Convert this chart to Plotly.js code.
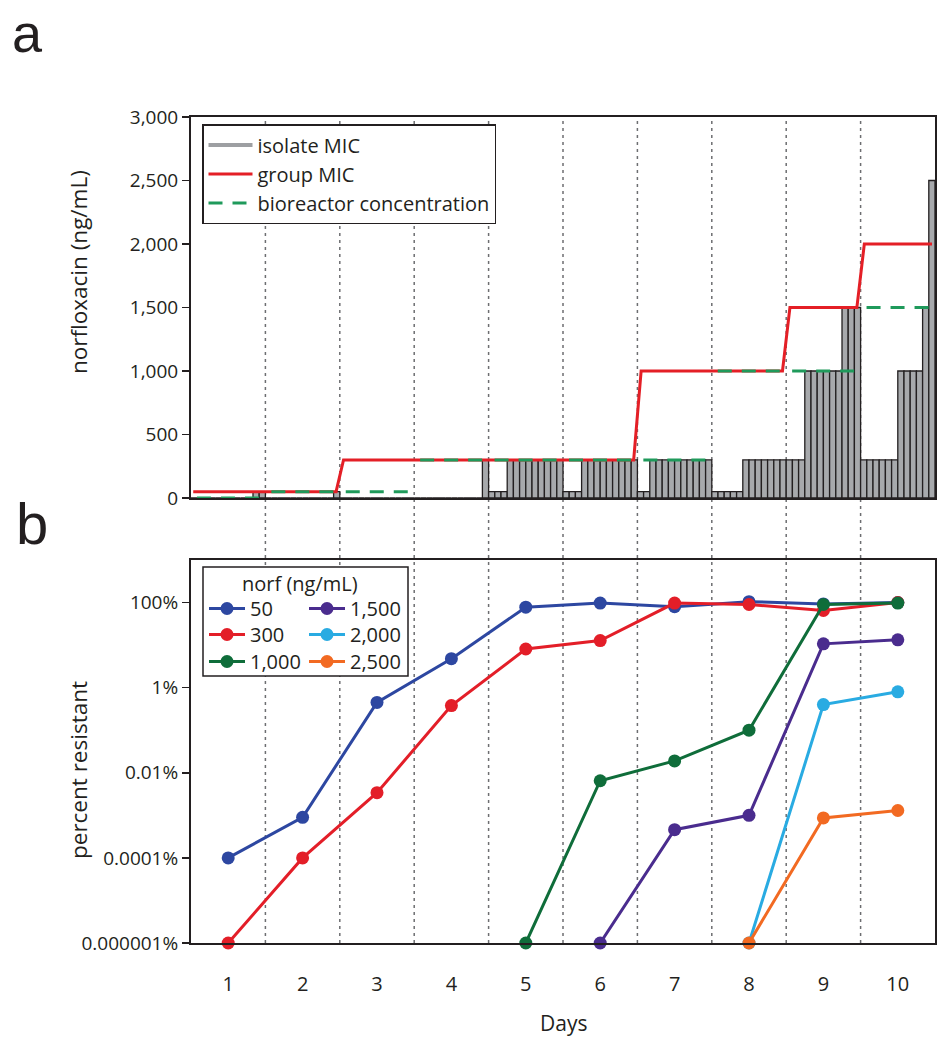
<!DOCTYPE html>
<html>
<head>
<meta charset="utf-8">
<script src="https://cdn.plot.ly/plotly-3.0.1.min.js"></script>
<style>
  html, body { margin: 0; padding: 0; background: #ffffff; }
  #chart { width: 946px; height: 1050px; }
</style>
</head>
<body>
<div id="chart"></div>
<script>
// ---------------- DATA ----------------
const days = [1, 2, 3, 4, 5, 6, 7, 8, 9, 10];

// panel a: isolate MIC (ng/mL), 12 isolates per day
const micDay1  = [0, 0, 0, 0, 0, 0, 0, 0, 0, 0, 50, 50];
const micDay2  = [0, 0, 0, 0, 0, 0, 0, 0, 0, 0, 0, 50];
const micDay3  = [0, 0, 0, 0, 0, 0, 0, 0, 0, 0, 0, 0];
const micDay4  = [0, 0, 0, 0, 0, 0, 0, 0, 0, 0, 0, 300];
const micDay5  = [50, 50, 50, 300, 300, 300, 300, 300, 300, 300, 300, 300];
const micDay6  = [50, 50, 50, 300, 300, 300, 300, 300, 300, 300, 300, 300];
const micDay7  = [50, 50, 300, 300, 300, 300, 300, 300, 300, 300, 300, 300];
const micDay8  = [50, 50, 50, 50, 50, 300, 300, 300, 300, 300, 300, 300];
const micDay9  = [300, 300, 300, 1000, 1000, 1000, 1000, 1000, 1000, 1500, 1500, 1500];
const micDay10 = [300, 300, 300, 300, 300, 300, 1000, 1000, 1000, 1000, 1500, 2500];

const groupMIC       = [50, 50, 300, 300, 300, 300, 1000, 1000, 1500, 2000];
const bioreactorConc = [0, 50, 50, 300, 300, 300, 300, 1000, 1000, 1500];

const yTicksA = [0, 500, 1000, 1500, 2000, 2500, 3000];

// panel b: percent resistant
const res50   = [0.0001, 0.0009, 0.45, 4.8, 78, 97, 80, 105, 93, 100];
const res300  = [0.000001, 0.0001, 0.0034, 0.38, 8.1, 12.8, 97, 90, 65, 100];
const res1000 = [null, null, null, null, 0.000001, 0.0065, 0.019, 0.1, 90, 97];
const res1500 = [null, null, null, null, null, 0.000001, 0.00046, 0.001, 10.7, 13.3];
const res2000 = [null, null, null, null, null, null, null, 0.000001, 0.4, 0.8];
const res2500 = [null, null, null, null, null, null, null, 0.000001, 0.00087, 0.0013];

const yTickValsB = [100, 1, 0.01, 0.0001, 0.000001];
const yTickTextB = ['100%', '1%', '0.01%', '0.0001%', '0.000001%'];

// ---------------- BUILD ----------------
const FONT = 'Open Sans, Noto Sans, sans-serif';
const INK = '#231f20';
const micByDay = [micDay1, micDay2, micDay3, micDay4, micDay5, micDay6, micDay7, micDay8, micDay9, micDay10];
const perDay = 12;

const barX = [], barY = [];
micByDay.forEach((arr, di) => {
  arr.forEach((v, i) => {
    barX.push(days[di] - 0.5 + (i + 0.5) / perDay);
    barY.push(v);
  });
});

const gX = [], gY = [];
days.forEach((d, i) => {
  const a = d - 0.5 + (i === 0 ? 0.03 : 0.05);
  const b = d + 0.5 - (i === days.length - 1 ? 0.04 : 0.05);
  gX.push(a, b); gY.push(groupMIC[i], groupMIC[i]);
});

const bX = [], bY = [];
days.forEach((d, i) => {
  bX.push(d - 0.5 + 0.08, d + 0.5 - 0.03, null);
  bY.push(bioreactorConc[i], bioreactorConc[i], null);
});

// geometry helpers (paper coords)
const L = 191, R = 935, T = 117, B = 943;
const px = x => (x - L) / (R - L);
const py = y => (B - y) / (B - T);

const traces = [];
// top panel
traces.push({
  type: 'scatter', mode: 'lines', x: [null], y: [null], xaxis: 'x2', yaxis: 'y2',
  name: 'isolate MIC', line: {color: '#9d9fa2', width: 4},
  legend: 'legend7', hoverinfo: 'skip'
});
traces.push({
  type: 'bar', x: barX, y: barY, width: 1 / perDay, xaxis: 'x2', yaxis: 'y2',
  marker: {color: '#a7a9ac', line: {color: INK, width: 1.3}},
  showlegend: false, name: 'isolate MIC bars', hoverinfo: 'x+y'
});
traces.push({
  type: 'scatter', mode: 'lines', x: gX, y: gY, xaxis: 'x2', yaxis: 'y2',
  name: 'group MIC', line: {color: '#e41f26', width: 3},
  legend: 'legend7'
});
traces.push({
  type: 'scatter', mode: 'lines', x: bX, y: bY, xaxis: 'x2', yaxis: 'y2',
  name: 'bioreactor concentration', connectgaps: false,
  line: {color: '#1f9a5b', width: 3, dash: '14px,10px'},
  legend: 'legend7'
});

// bottom panel: legend slot for each series (2 columns x 3 rows)
const series = [
  {name: '50',    y: res50,   color: '#2d47a1', legend: 'legend'},
  {name: '300',   y: res300,  color: '#e31e28', legend: 'legend2'},
  {name: '1,000', y: res1000, color: '#0f6d3a', legend: 'legend3'},
  {name: '1,500', y: res1500, color: '#4a2c8e', legend: 'legend4'},
  {name: '2,000', y: res2000, color: '#29abe2', legend: 'legend5'},
  {name: '2,500', y: res2500, color: '#f26a22', legend: 'legend6'}
];
series.forEach(s => {
  traces.push({
    type: 'scatter', mode: 'lines+markers', x: days, y: s.y,
    xaxis: 'x', yaxis: 'y', name: s.name, legend: s.legend,
    line: {color: s.color, width: 3},
    marker: {color: s.color, size: 13},
    cliponaxis: false
  });
});

const shapes = [];
days.slice(0, -1).forEach(d => {
  shapes.push({
    type: 'line', xref: 'x', yref: 'paper', x0: d + 0.5, x1: d + 0.5, y0: 0, y1: 1,
    line: {color: '#6d6e71', width: 1.5, dash: '3px,4px'}, layer: 'below'
  });
});
shapes.push({
  type: 'rect', xref: 'paper', yref: 'paper',
  x0: px(203), x1: px(408), y0: py(676), y1: py(567),
  fillcolor: '#ffffff', line: {color: INK, width: 1.5}, layer: 'below'
});

const axisLine = {showline: true, linecolor: INK, linewidth: 2, mirror: true, showgrid: false, zeroline: false};

function slotLegend(xPix, rowCenter) {
  return {
    x: px(xPix), y: py(rowCenter - 18), xanchor: 'left', yanchor: 'top',
    bgcolor: 'rgba(0,0,0,0)', borderwidth: 0, itemwidth: 36,
    font: {size: 20, family: FONT, color: INK}
  };
}

const layout = {
  width: 946, height: 1050,
  margin: {l: L, r: 946 - R, t: T, b: 1050 - B, pad: 0},
  paper_bgcolor: '#ffffff', plot_bgcolor: 'rgba(0,0,0,0)',
  font: {family: FONT, color: INK, size: 19},
  barmode: 'overlay', bargap: 0,
  showlegend: true,
  xaxis: Object.assign({}, axisLine, {
    domain: [0, 1], anchor: 'y', range: [0.5, 10.5],
    tickvals: days, ticktext: days.map(String), ticks: '',
    tickfont: {size: 20, family: FONT, color: INK}, ticklabelstandoff: 22
  }),
  yaxis: Object.assign({}, axisLine, {
    domain: [0, py(560)], anchor: 'x', type: 'log', range: [-6, 3],
    tickvals: yTickValsB, ticktext: yTickTextB,
    ticks: 'outside', ticklen: 7, tickwidth: 1.5, tickcolor: INK,
    tickfont: {size: 19, family: FONT, color: INK}
  }),
  xaxis2: Object.assign({}, axisLine, {
    domain: [0, 1], anchor: 'y2', range: [0.5, 10.5],
    showticklabels: false, ticks: ''
  }),
  yaxis2: Object.assign({}, axisLine, {
    domain: [py(498), 1], anchor: 'x2', range: [0, 3000],
    tickvals: yTicksA, tickformat: ',d',
    ticks: 'outside', ticklen: 7, tickwidth: 1.5, tickcolor: INK,
    tickfont: {size: 19, family: FONT, color: INK}
  }),
  legend:  slotLegend(204, 607),
  legend2: slotLegend(204, 633),
  legend3: slotLegend(204, 660),
  legend4: slotLegend(304, 607),
  legend5: slotLegend(304, 633),
  legend6: slotLegend(304, 660),
  legend7: {
    x: px(202), y: py(124), xanchor: 'left', yanchor: 'top',
    bgcolor: '#ffffff', bordercolor: INK, borderwidth: 1.5, itemwidth: 44,
    font: {size: 20, family: FONT, color: INK}, tracegroupgap: 0
  },
  shapes: shapes,
  annotations: [
    {text: 'norfloxacin (ng/mL)', xref: 'paper', yref: 'paper', x: px(78), y: py(272),
     xanchor: 'center', yanchor: 'middle',
     textangle: -90, showarrow: false, font: {size: 22.5, family: FONT, color: INK}},
    {text: 'percent resistant', xref: 'paper', yref: 'paper', x: px(78), y: py(770),
     xanchor: 'center', yanchor: 'middle',
     textangle: -90, showarrow: false, font: {size: 22.5, family: FONT, color: INK}},
    {text: 'Days', xref: 'paper', yref: 'paper', x: 0.5, y: py(1023),
     xanchor: 'center', yanchor: 'middle',
     showarrow: false, font: {size: 21, family: FONT, color: INK}},
    {text: 'norf (ng/mL)', xref: 'paper', yref: 'paper', x: px(300), y: py(583),
     xanchor: 'center', yanchor: 'middle',
     showarrow: false, font: {size: 20, family: FONT, color: INK}},
    {text: 'a', xref: 'paper', yref: 'paper', x: px(27), y: py(1),
     xanchor: 'center', yanchor: 'top',
     showarrow: false, font: {size: 54, family: 'Liberation Sans, Arial, sans-serif', color: INK}},
    {text: 'b', xref: 'paper', yref: 'paper', x: px(32), y: py(523),
     xanchor: 'center', yanchor: 'middle',
     showarrow: false, font: {size: 58, family: 'Liberation Sans, Arial, sans-serif', color: INK}}
  ]
};

Plotly.newPlot('chart', traces, layout, {displayModeBar: false, staticPlot: true});
</script>
</body>
</html>
